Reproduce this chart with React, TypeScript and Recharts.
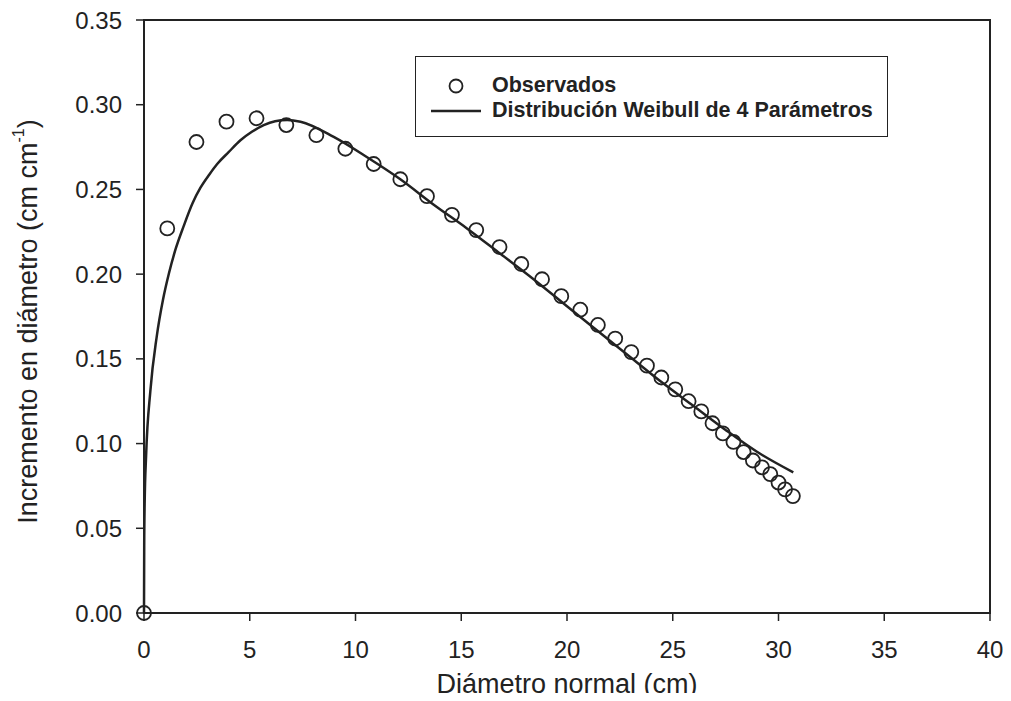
import { ComposedChart, Scatter, Line, XAxis, YAxis, Legend, ReferenceArea } from "recharts"

// observed points (diámetro normal cm, incremento cm/cm)
const obsX = [0, 1.1, 2.48, 3.9, 5.32, 6.73, 8.15, 9.52, 10.86, 12.12, 13.38, 14.56, 15.71, 16.81, 17.84, 18.82, 19.73, 20.63, 21.46, 22.28, 23.04, 23.78, 24.46, 25.12, 25.75, 26.35, 26.88, 27.37, 27.87, 28.35, 28.79, 29.22, 29.61, 30.0, 30.31, 30.68]
const obsY = [0, 0.227, 0.278, 0.29, 0.292, 0.288, 0.282, 0.274, 0.265, 0.256, 0.246, 0.235, 0.226, 0.216, 0.206, 0.197, 0.187, 0.179, 0.17, 0.162, 0.154, 0.146, 0.139, 0.132, 0.125, 0.119, 0.112, 0.106, 0.101, 0.095, 0.09, 0.086, 0.082, 0.077, 0.073, 0.069]

// fitted weibull curve
const fitX = [0, 0.01, 0.03, 0.1, 0.3, 0.6, 0.9, 1.18, 1.5, 1.88, 2.3, 2.67, 3.1, 3.46, 4.0, 4.56, 5.1, 5.66, 6.2, 6.77, 7.4, 8.97, 10.55, 12.12, 13.7, 15.27, 16.85, 18.42, 20.0, 21.5, 23.0, 24.5, 26.0, 27.5, 29.0, 30.7]
const fitY = [0, 0.04, 0.064, 0.093, 0.131, 0.163, 0.185, 0.2005, 0.215, 0.2285, 0.242, 0.251, 0.259, 0.265, 0.272, 0.279, 0.284, 0.288, 0.2903, 0.291, 0.29, 0.281, 0.269, 0.256, 0.241, 0.227, 0.212, 0.197, 0.181, 0.166, 0.151, 0.136, 0.122, 0.108, 0.095, 0.083]

const xTicks = [0, 5, 10, 15, 20, 25, 30, 35, 40]
const yTicks = [0, 0.05, 0.1, 0.15, 0.2, 0.25, 0.3, 0.35]

const observed = obsX.map((x, i) => ({ x, y: obsY[i] }))
const fitted = fitX.map((x, i) => ({ x, y: fitY[i] }))

const FONT = "'Liberation Sans', Arial, sans-serif"
const INK = "#222"

function LegendBox() {
  return (
    <div style={{ width: 471, height: 79, border: `1.5px solid ${INK}`, fontFamily: FONT, fontWeight: "bold", fontSize: 21.5, color: INK, position: "relative" }}>
      <svg width={60} height={70} style={{ position: "absolute", left: 10, top: 5 }}>
        <circle cx={30} cy={24} r={6.5} fill="none" stroke={INK} strokeWidth={1.8} />
        <line x1={5} x2={55} y1={49} y2={49} stroke={INK} strokeWidth={2.5} />
      </svg>
      <div style={{ position: "absolute", left: 76, top: 16, lineHeight: "25px" }}>Observados</div>
      <div style={{ position: "absolute", left: 76, top: 41, lineHeight: "25px" }}>Distribución Weibull de 4 Parámetros</div>
    </div>
  )
}

export default function App() {
  return (
    <div style={{ margin: -8, width: 1011, height: 701, overflow: "hidden", background: "#fff" }}>
      <ComposedChart width={1011} height={701} margin={{ top: 20, right: 21, left: 24, bottom: 0 }}>
        <XAxis
          dataKey="x"
          type="number"
          domain={[0, 40]}
          ticks={xTicks}
          height={88}
          tickSize={8}
          tickMargin={20}
          tick={{ fill: INK, fontSize: 24, fontFamily: FONT }}
          axisLine={{ stroke: INK, strokeWidth: 2 }}
          tickLine={{ stroke: INK, strokeWidth: 1.5 }}
          label={{ value: "Diámetro normal (cm)", position: "insideBottom", offset: 8, fontSize: 27, fill: INK, fontFamily: FONT }}
        />
        <YAxis
          dataKey="y"
          type="number"
          domain={[0, 0.35]}
          ticks={yTicks}
          width={120}
          tickSize={8}
          tickMargin={14}
          tickFormatter={(v) => Number(v).toFixed(2)}
          tick={{ fill: INK, fontSize: 24, fontFamily: FONT }}
          axisLine={{ stroke: INK, strokeWidth: 2 }}
          tickLine={{ stroke: INK, strokeWidth: 1.5 }}
          label={({ viewBox }: any) => {
            const cx = viewBox.x + 4
            const cy = viewBox.y + viewBox.height / 2 + 5
            return (
              <text x={cx} y={cy} transform={`rotate(-90 ${cx} ${cy})`} textAnchor="middle" dominantBaseline="central" fontSize={27} fill={INK} fontFamily={FONT}>
                Incremento en diámetro (cm cm
                <tspan dy={-10} fontSize={16}>-1</tspan>
                <tspan dy={10}>)</tspan>
              </text>
            )
          }}
        />
        <ReferenceArea x1={0} x2={40} y1={0} y2={0.35} fill="none" stroke={INK} strokeWidth={2} />
        <Legend
          layout="vertical"
          align="center"
          verticalAlign="middle"
          wrapperStyle={{ position: "absolute", left: 415, top: 56, width: 474, height: 82 }}
          content={() => <LegendBox />}
        />
        <Line data={fitted} dataKey="y" type="monotone" stroke={INK} strokeWidth={2.5} dot={false} isAnimationActive={false} name="Distribución Weibull de 4 Parámetros" />
        <Scatter
          data={observed}
          dataKey="y"
          name="Observados"
          isAnimationActive={false}
          shape={(p: any) => <circle cx={p.cx} cy={p.cy} r={7} fill="none" stroke={INK} strokeWidth={1.8} />}
        />
      </ComposedChart>
    </div>
  )
}
